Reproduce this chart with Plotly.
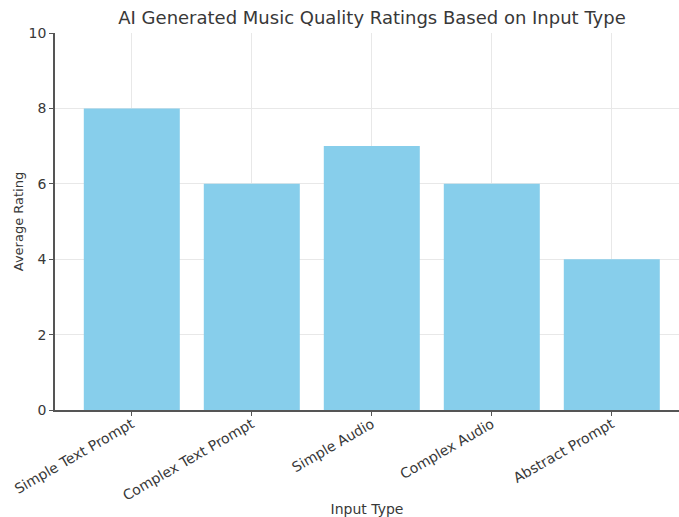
import plotly.graph_objects as go

categories = ["Simple Text Prompt", "Complex Text Prompt", "Simple Audio", "Complex Audio", "Abstract Prompt"]
ratings = [8, 6, 7, 6, 4]
y_ticks = [0, 2, 4, 6, 8, 10]

FONT = "DejaVu Sans"
TEXT = "#383838"

fig = go.Figure(
    go.Bar(
        x=categories,
        y=ratings,
        width=0.8,
        marker=dict(color="#87CEEB", line=dict(width=0)),
    )
)

fig.update_layout(
    width=679,
    height=517,
    margin=dict(l=55, r=0, t=33, b=107, autoexpand=False),
    paper_bgcolor="white",
    plot_bgcolor="white",
    font=dict(family=FONT, size=14, color=TEXT),
    showlegend=False,
    title=dict(
        text="AI Generated Music Quality Ratings Based on Input Type",
        font=dict(family=FONT, size=18, color=TEXT),
        x=372 / 679,
        xanchor="center",
        y=1 - 18 / 517,
        yanchor="middle",
    ),
)

fig.update_xaxes(
    automargin=False,
    range=[-0.64, 4.56],
    tickangle=-30,
    ticklabelstandoff=-5,
    showgrid=True,
    gridcolor="#e8e8e8",
    gridwidth=1,
    showline=True,
    linecolor="#555555",
    linewidth=1.5,
    ticks="outside",
    ticklen=4,
    tickcolor="#555555",
    tickfont=dict(family=FONT, size=14, color=TEXT),
    title=dict(text="Input Type", font=dict(family=FONT, size=14, color=TEXT), standoff=12),
)

fig.update_yaxes(
    automargin=False,
    range=[0, 10],
    tickvals=y_ticks,
    showgrid=True,
    gridcolor="#e8e8e8",
    gridwidth=1,
    zeroline=False,
    showline=True,
    linecolor="#555555",
    linewidth=1.5,
    ticks="outside",
    ticklen=4,
    tickcolor="#555555",
    tickfont=dict(family=FONT, size=14, color=TEXT),
    title=dict(text="Average Rating", font=dict(family=FONT, size=13, color=TEXT), standoff=2),
)

fig.write_html("out.html")
